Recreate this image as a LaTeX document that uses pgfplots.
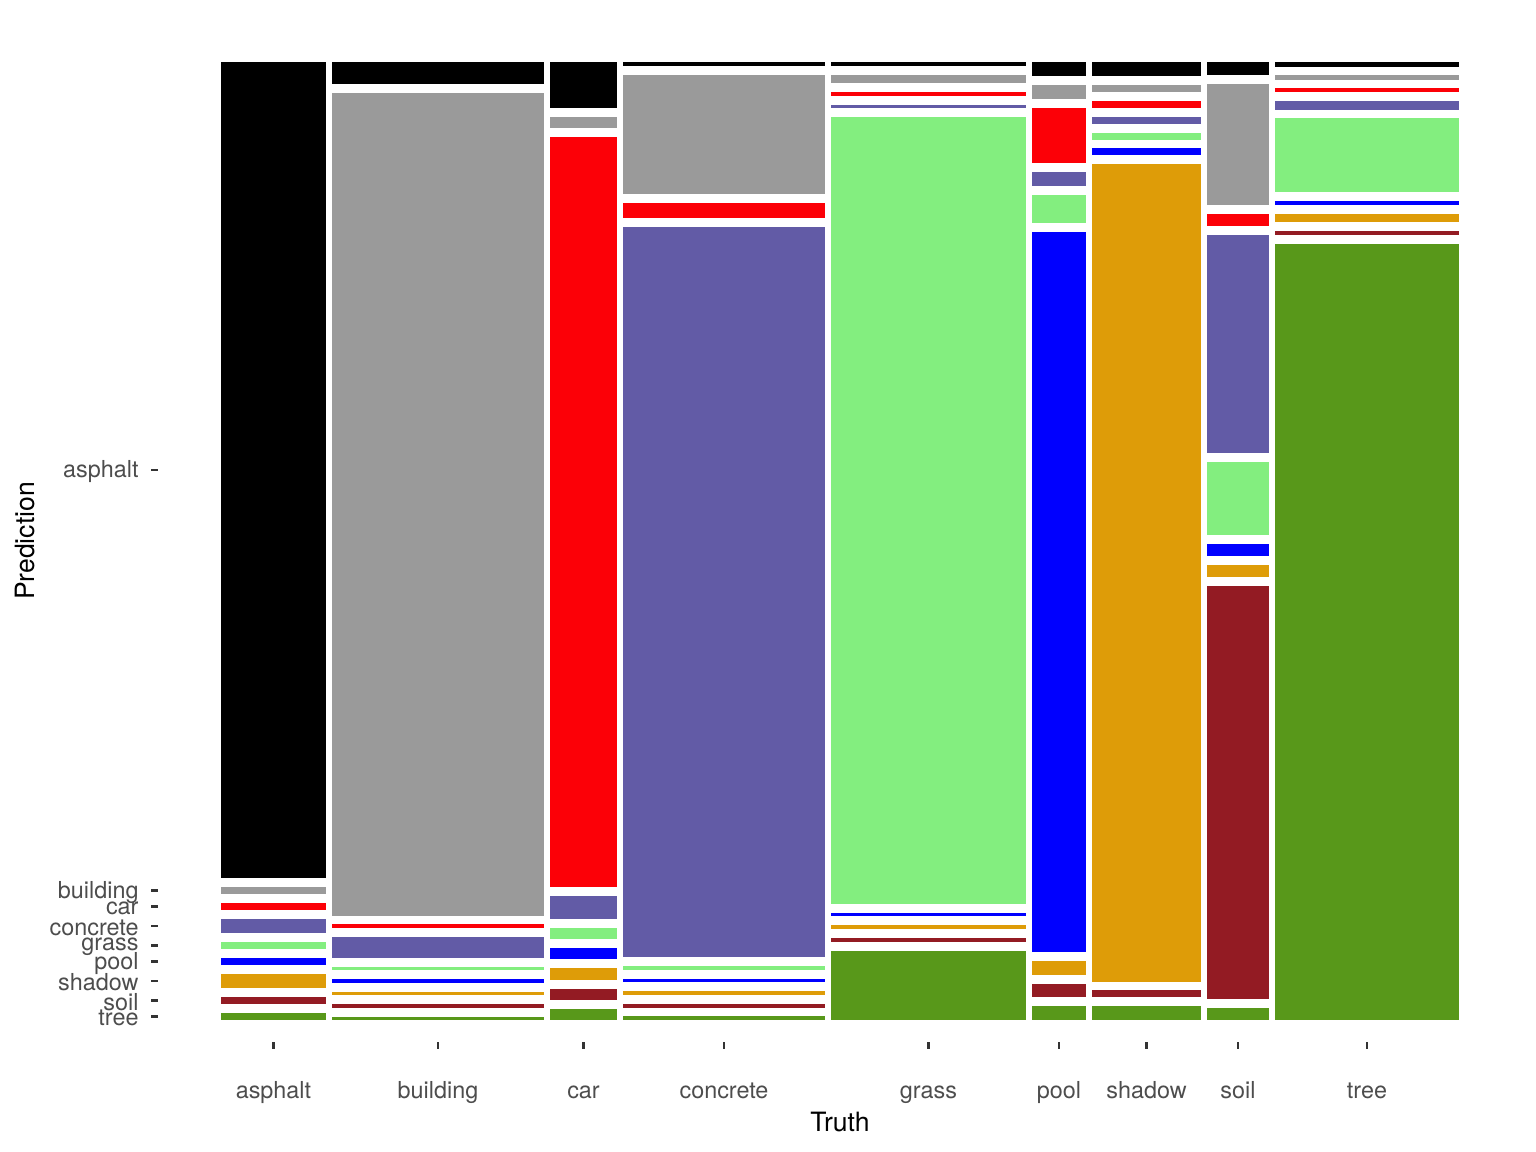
\documentclass[border=0pt]{standalone}
\usepackage{fontspec}
\setmainfont{TeX Gyre Heros}
\usepackage{pgfplots}
\pgfplotsset{compat=1.18}
\definecolor{cAs}{HTML}{000000}
\definecolor{cBu}{HTML}{9A9A9A}
\definecolor{cCa}{HTML}{FC0007}
\definecolor{cCo}{HTML}{625BA6}
\definecolor{cGr}{HTML}{83EE7F}
\definecolor{cPo}{HTML}{0000FF}
\definecolor{cSh}{HTML}{DE9C08}
\definecolor{cSo}{HTML}{931B23}
\definecolor{cTr}{HTML}{58981A}
\definecolor{txt}{HTML}{4D4D4D}
\definecolor{tck}{HTML}{333333}
% one tile of the mosaic: colour, x0, x1, y0 (top), y1 (bottom)
\newcommand\R[5]{\addplot[fill=#1,draw=none] coordinates {(#2,-#4) (#3,-#4) (#3,-#5) (#2,-#5)};}
\begin{document}
\begin{tikzpicture}
\useasboundingbox (0,0) rectangle (578.16pt,433.62pt);
\begin{axis}[
  at={(59.47pt,41.41pt)}, anchor=south west,
  scale only axis, width=513.42pt, height=377.16pt,
  xmin=158, xmax=1522, ymin=-1042, ymax=-40,
  axis line style={draw=none},
  tick align=outside, xtick pos=bottom, ytick pos=left,
  major tick length=2.6pt,
  every tick/.style={tck, line width=0.9pt},
  xtick={273.5,438,583.5,724,928.5,1059,1146.5,1238,1367},
  xticklabels={asphalt,building,car,concrete,grass,pool,shadow,soil,tree},
  ytick={-470,-890.5,-906.5,-926,-945.5,-961.5,-981,-1000.5,-1016.5},
  yticklabels={asphalt,building,car,concrete,grass,pool,shadow,soil,tree},
  tick label style={font=\fontsize{8.8}{9}\selectfont, text=txt},
  xticklabel style={text height=6.4pt, text depth=1.9pt, yshift=-8.6pt},
  yticklabel style={xshift=-1.2pt, yshift=-0.6pt},
  xlabel={Truth}, ylabel={Prediction},
  label style={font=\fontsize{11}{13}\selectfont},
  every axis x label/.style={at={(axis description cs:0.5,-0.0798)}, anchor=center},
  every axis y label/.style={at={(axis description cs:-0.0975,0.5)}, rotate=90, anchor=center},
]
% asphalt (truth)
\R{cAs}{221}{326}{62}{878}
\R{cBu}{221}{326}{887}{894}
\R{cCa}{221}{326}{903}{910}
\R{cCo}{221}{326}{919}{933}
\R{cGr}{221}{326}{942}{949}
\R{cPo}{221}{326}{958}{965}
\R{cSh}{221}{326}{974}{988}
\R{cSo}{221}{326}{997}{1004}
\R{cTr}{221}{326}{1013}{1020}
% building
\R{cAs}{332}{544}{62}{84}
\R{cBu}{332}{544}{93}{916}
\R{cCa}{332}{544}{924}{928}
\R{cCo}{332}{544}{937}{958}
\R{cGr}{332}{544}{967}{970}
\R{cPo}{332}{544}{979}{983}
\R{cSh}{332}{544}{992}{995}
\R{cSo}{332}{544}{1004}{1008}
\R{cTr}{332}{544}{1017}{1020}
% car
\R{cAs}{550}{617}{62}{108}
\R{cBu}{550}{617}{117}{128}
\R{cCa}{550}{617}{137}{887}
\R{cCo}{550}{617}{896}{919}
\R{cGr}{550}{617}{928}{939}
\R{cPo}{550}{617}{948}{959}
\R{cSh}{550}{617}{968}{980}
\R{cSo}{550}{617}{989}{1000}
\R{cTr}{550}{617}{1009}{1020}
% concrete
\R{cAs}{623}{825}{62}{66}
\R{cBu}{623}{825}{75}{194}
\R{cCa}{623}{825}{203}{218}
\R{cCo}{623}{825}{227}{957}
\R{cGr}{623}{825}{966}{970}
\R{cPo}{623}{825}{979}{982}
\R{cSh}{623}{825}{991}{995}
\R{cSo}{623}{825}{1004}{1008}
\R{cTr}{623}{825}{1016}{1020}
% grass
\R{cAs}{831}{1026}{62}{66}
\R{cBu}{831}{1026}{75}{83}
\R{cCa}{831}{1026}{92}{96}
\R{cCo}{831}{1026}{105}{108}
\R{cGr}{831}{1026}{117}{904}
\R{cPo}{831}{1026}{913}{916}
\R{cSh}{831}{1026}{925}{929}
\R{cSo}{831}{1026}{938}{942}
\R{cTr}{831}{1026}{951}{1020}
% pool
\R{cAs}{1032}{1086}{62}{76}
\R{cBu}{1032}{1086}{85}{99}
\R{cCa}{1032}{1086}{108}{163}
\R{cCo}{1032}{1086}{172}{186}
\R{cGr}{1032}{1086}{195}{223}
\R{cPo}{1032}{1086}{232}{952}
\R{cSh}{1032}{1086}{961}{975}
\R{cSo}{1032}{1086}{984}{997}
\R{cTr}{1032}{1086}{1006}{1020}
% shadow
\R{cAs}{1092}{1201}{62}{76}
\R{cBu}{1092}{1201}{85}{92}
\R{cCa}{1092}{1201}{101}{108}
\R{cCo}{1092}{1201}{117}{124}
\R{cGr}{1092}{1201}{133}{140}
\R{cPo}{1092}{1201}{148}{155}
\R{cSh}{1092}{1201}{164}{982}
\R{cSo}{1092}{1201}{990}{997}
\R{cTr}{1092}{1201}{1006}{1020}
% soil
\R{cAs}{1207}{1269}{62}{75}
\R{cBu}{1207}{1269}{84}{205}
\R{cCa}{1207}{1269}{214}{226}
\R{cCo}{1207}{1269}{235}{453}
\R{cGr}{1207}{1269}{462}{535}
\R{cPo}{1207}{1269}{544}{556}
\R{cSh}{1207}{1269}{565}{577}
\R{cSo}{1207}{1269}{586}{999}
\R{cTr}{1207}{1269}{1008}{1020}
% tree
\R{cAs}{1275}{1459}{62}{67}
\R{cBu}{1275}{1459}{75}{80}
\R{cCa}{1275}{1459}{88}{92}
\R{cCo}{1275}{1459}{101}{110}
\R{cGr}{1275}{1459}{118}{192}
\R{cPo}{1275}{1459}{201}{205}
\R{cSh}{1275}{1459}{214}{222}
\R{cSo}{1275}{1459}{231}{235}
\R{cTr}{1275}{1459}{244}{1020}
\end{axis}
\end{tikzpicture}
\end{document}
